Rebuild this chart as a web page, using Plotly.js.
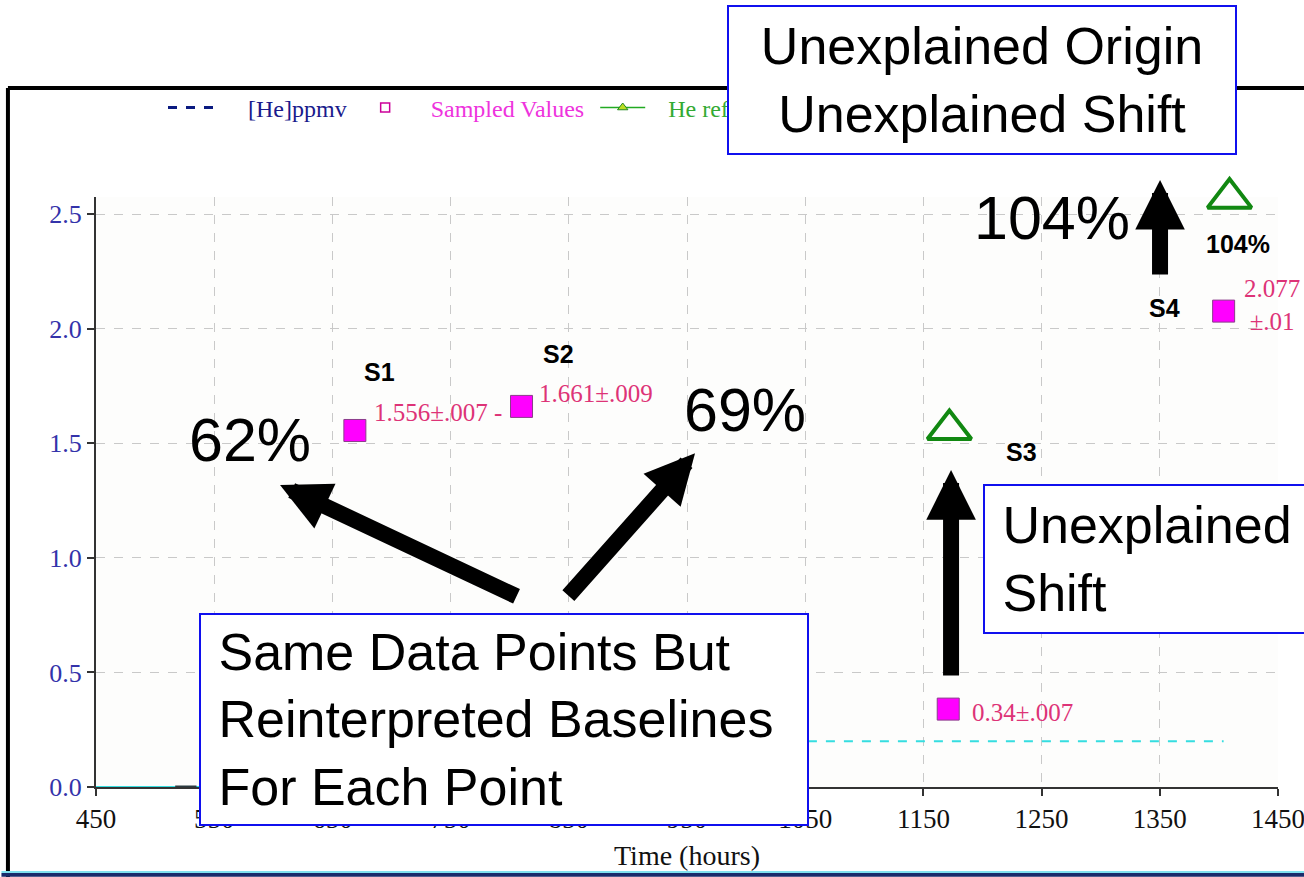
<!DOCTYPE html>
<html>
<head>
<meta charset="utf-8">
<script src="https://cdn.plot.ly/plotly-3.0.1.min.js"></script>
<style>html,body{margin:0;padding:0;background:#fff;}#chart{width:1304px;height:877px;}</style>
</head>
<body>
<div id="chart"></div>
<script>
// ---- data ----
const sampleNames  = ["S1", "S2", "S3", "S4"];
const sampleTimes  = [669, 810, 1171, 1404];
const sampleValues = [1.556, 1.661, 0.34, 2.077];
const sampleLabels = ["1.556±.007 -", "1.661±.009", "0.34±.007", "2.077<br>±.01"];

const refTimes  = [1172, 1409];
const refValues = [1.56, 2.57];
const refLabel  = "104%";

const heTimes  = [517, 535];
const heValues = [0, 0];
const baseSolidTimes  = [450, 600];
const baseSolidValues = [0, 0];
const baseDashTimes   = [900, 1404];
const baseDashValues  = [0.2, 0.2];

const legendNames = ["[He]ppmv", "Sampled Values", "He reference"];
const percentTexts = ["62%", "69%", "104%"];
const boxTexts = [
  "Unexplained Origin<br>Unexplained Shift",
  "&nbsp;Unexplained<br>&nbsp;Shift",
  "&nbsp;Same Data Points But<br>&nbsp;Reinterpreted Baselines<br>&nbsp;For Each Point"
];
const xTickVals = [450, 550, 650, 750, 850, 950, 1050, 1150, 1250, 1350, 1450];
const yTickVals = [0, 0.5, 1.0, 1.5, 2.0, 2.5];
const yTickText = ["0.0", "0.5", "1.0", "1.5", "2.0", "2.5"];

// ---- helpers ----
const serif = "Liberation Serif, Times New Roman, serif";
const sans = "Liberation Sans, Arial, sans-serif";
const pad = n => "&nbsp;".repeat(n);
const legendPad = [[5, 1], [3, 1], [3, 0]];
const legendColors = ["#1a1a8c", "#ee33dd", "#33aa33"];
const legendLabel = i => pad(legendPad[i][0]) + '<span style="color:' + legendColors[i] + '">' + legendNames[i] + '</span>' + pad(legendPad[i][1]);

// ---- traces ----
const traces = [
  {x: baseSolidTimes, y: baseSolidValues, mode: "lines", line: {color: "#35dde0", width: 2}, showlegend: false, cliponaxis: false},
  {x: baseDashTimes, y: baseDashValues, mode: "lines", line: {color: "#35dde0", width: 2, dash: "dash"}, showlegend: false},
  {x: heTimes, y: heValues, mode: "lines", line: {color: "#2a3a40", width: 3}, showlegend: false, cliponaxis: false},
  {x: sampleTimes, y: sampleValues, mode: "markers", cliponaxis: false, showlegend: false,
   marker: {symbol: "square", size: 22, color: "#ff00ff", line: {color: "#8a3d8a", width: 1}}},
  {x: refTimes, y: refValues, mode: "markers", cliponaxis: false, showlegend: false,
   marker: {symbol: "triangle-up-open", size: 38, color: "#118811", line: {color: "#118811", width: 4}}},
  // legend entries
  {x: [null], y: [null], mode: "lines", name: legendLabel(0),
   line: {color: "#0a1a80", width: 3, dash: "dash"}},
  {x: [null], y: [null], mode: "markers", name: legendLabel(1),
   marker: {symbol: "square-open", size: 9, color: "#cc0099", line: {width: 1.5}}},
  {x: [null], y: [null], mode: "lines+markers", name: legendLabel(2),
   line: {color: "#22aa22", width: 1.5}, marker: {symbol: "triangle-up", size: 9, color: "#bbdd22", line: {color: "#228822", width: 1}}}
];

// ---- annotations ----
const ann = [];
// sample value labels
const labelShift = [[17, 18], [15, 13], [22, -3], [18, 6]];
sampleLabels.forEach((t, i) => {
  ann.push({x: sampleTimes[i], y: sampleValues[i], text: t, showarrow: false, xanchor: "left", yanchor: "middle",
    xshift: labelShift[i][0], yshift: labelShift[i][1], align: "center",
    font: {family: serif, size: 25, color: "#dd3377"}});
});
// sample names
const namePos = [[690, 1.811], [841, 1.889], [1233, 1.462], [1354, 2.09]];
sampleNames.forEach((t, i) => {
  ann.push({x: namePos[i][0], y: namePos[i][1], text: "<b>" + t + "</b>", showarrow: false,
    font: {family: sans, size: 25, color: "#000"}});
});
// small 104% under triangle
ann.push({x: 1416, y: 2.369, text: "<b>" + refLabel + "</b>", showarrow: false, font: {family: sans, size: 25, color: "#000"}});
// big percentages
const pctPos = [[580, 1.514], [999, 1.645], [1259, 2.483]];
percentTexts.forEach((t, i) => {
  ann.push({x: pctPos[i][0], y: pctPos[i][1], text: t, showarrow: false, font: {family: sans, size: 61, color: "#000"}});
});
// arrows (head position; tail offset in px)
const arrows = [
  {x: 605.7, y: 1.318, ax: 238, ay: 112, xref: "x", yref: "y"},
  {x: 956.8, y: 1.457, ax: -128, ay: 144, xref: "x", yref: "y"},
  {x: 1173.4, y: 1.383, ax: 0, ay: 207, xref: "x", yref: "y"},
  {x: 0.9002, y: 1.0288, ax: 0, ay: 96, xref: "paper", yref: "paper"}
];
arrows.forEach(a => {
  ann.push({x: a.x, y: a.y, xref: a.xref, yref: a.yref, ax: a.ax, ay: a.ay, text: "", showarrow: true, arrowhead: 2, arrowsize: 0.62,
    arrowwidth: 16, arrowcolor: "#000", standoff: 0});
});
// boxes
ann.push({x: 0.7496, y: 1.1983, xref: "paper", yref: "paper", xanchor: "center", yanchor: "middle",
  text: boxTexts[0], showarrow: false, width: 500, height: 140, align: "center",
  bgcolor: "#fff", bordercolor: "#1010ee", borderwidth: 2, borderpad: 3, font: {family: sans, size: 52, color: "#000"}});
ann.push({x: 1200.4, y: 0.995, text: boxTexts[1], showarrow: false, xanchor: "left", yanchor: "middle", width: 340, height: 140, align: "left",
  bgcolor: "#fff", bordercolor: "#1010ee", borderwidth: 2, borderpad: 3, font: {family: sans, size: 52, color: "#000"}});
ann.push({x: 794.8, y: 0.2945, text: boxTexts[2], showarrow: false, xanchor: "center", yanchor: "middle", width: 600, height: 203, align: "left",
  bgcolor: "#fff", bordercolor: "#1010ee", borderwidth: 2, borderpad: 3, font: {family: sans, size: 52, color: "#000"}});

// ---- frame shapes ----
const shapes = [
  {type: "line", xref: "paper", yref: "paper", x0: -0.0745, x1: 1.1, y0: 1.1847, y1: 1.1847, line: {color: "#000", width: 4}, layer: "below"},
  {type: "line", xref: "paper", yref: "paper", x0: -0.0745, x1: -0.0745, y0: 1.1847, y1: -0.16, line: {color: "#000", width: 4}, layer: "below"},
  {type: "rect", xref: "paper", yref: "paper", x0: -0.08, x1: 1.1, y0: -0.1458, y1: -0.152, fillcolor: "#1a2a6a", line: {width: 0}, layer: "below"},
  {type: "rect", xref: "paper", yref: "paper", x0: -0.08, x1: 1.1, y0: -0.1425, y1: -0.1458, fillcolor: "#7fe0ee", line: {width: 0}, layer: "below"}
];

const layout = {
  width: 1304, height: 877,
  margin: {l: 96, r: 26, t: 197, b: 90},
  paper_bgcolor: "#ffffff", plot_bgcolor: "#fdfdfc",
  showlegend: true,
  legend: {orientation: "h", x: 0.0567, y: 1.151, xanchor: "left", yanchor: "middle", bgcolor: "rgba(0,0,0,0)",
    itemwidth: 45, font: {family: serif, size: 24}},
  xaxis: {range: [450, 1450], tickvals: xTickVals, ticks: "outside", ticklen: 7, tickwidth: 2, tickcolor: "#333",
    showline: true, linecolor: "#333", linewidth: 2, zeroline: false, ticklabeloverflow: "allow",
    showgrid: true, gridcolor: "#c9c9c9", griddash: "dash", gridwidth: 1,
    tickfont: {family: serif, size: 27, color: "#111"},
    title: {text: "Time (hours)", font: {family: serif, size: 28, color: "#111"}, standoff: 12}},
  yaxis: {range: [0, 2.575], tickvals: yTickVals, ticktext: yTickText, ticks: "outside", ticklen: 7, tickwidth: 2, tickcolor: "#333",
    showline: true, linecolor: "#333", linewidth: 2, zeroline: false,
    showgrid: true, gridcolor: "#c9c9c9", griddash: "dash", gridwidth: 1,
    tickfont: {family: serif, size: 26, color: "#3333aa"}},
  annotations: ann,
  shapes: shapes
};

Plotly.newPlot("chart", traces, layout, {displayModeBar: false, staticPlot: true});
</script>
</body>
</html>
